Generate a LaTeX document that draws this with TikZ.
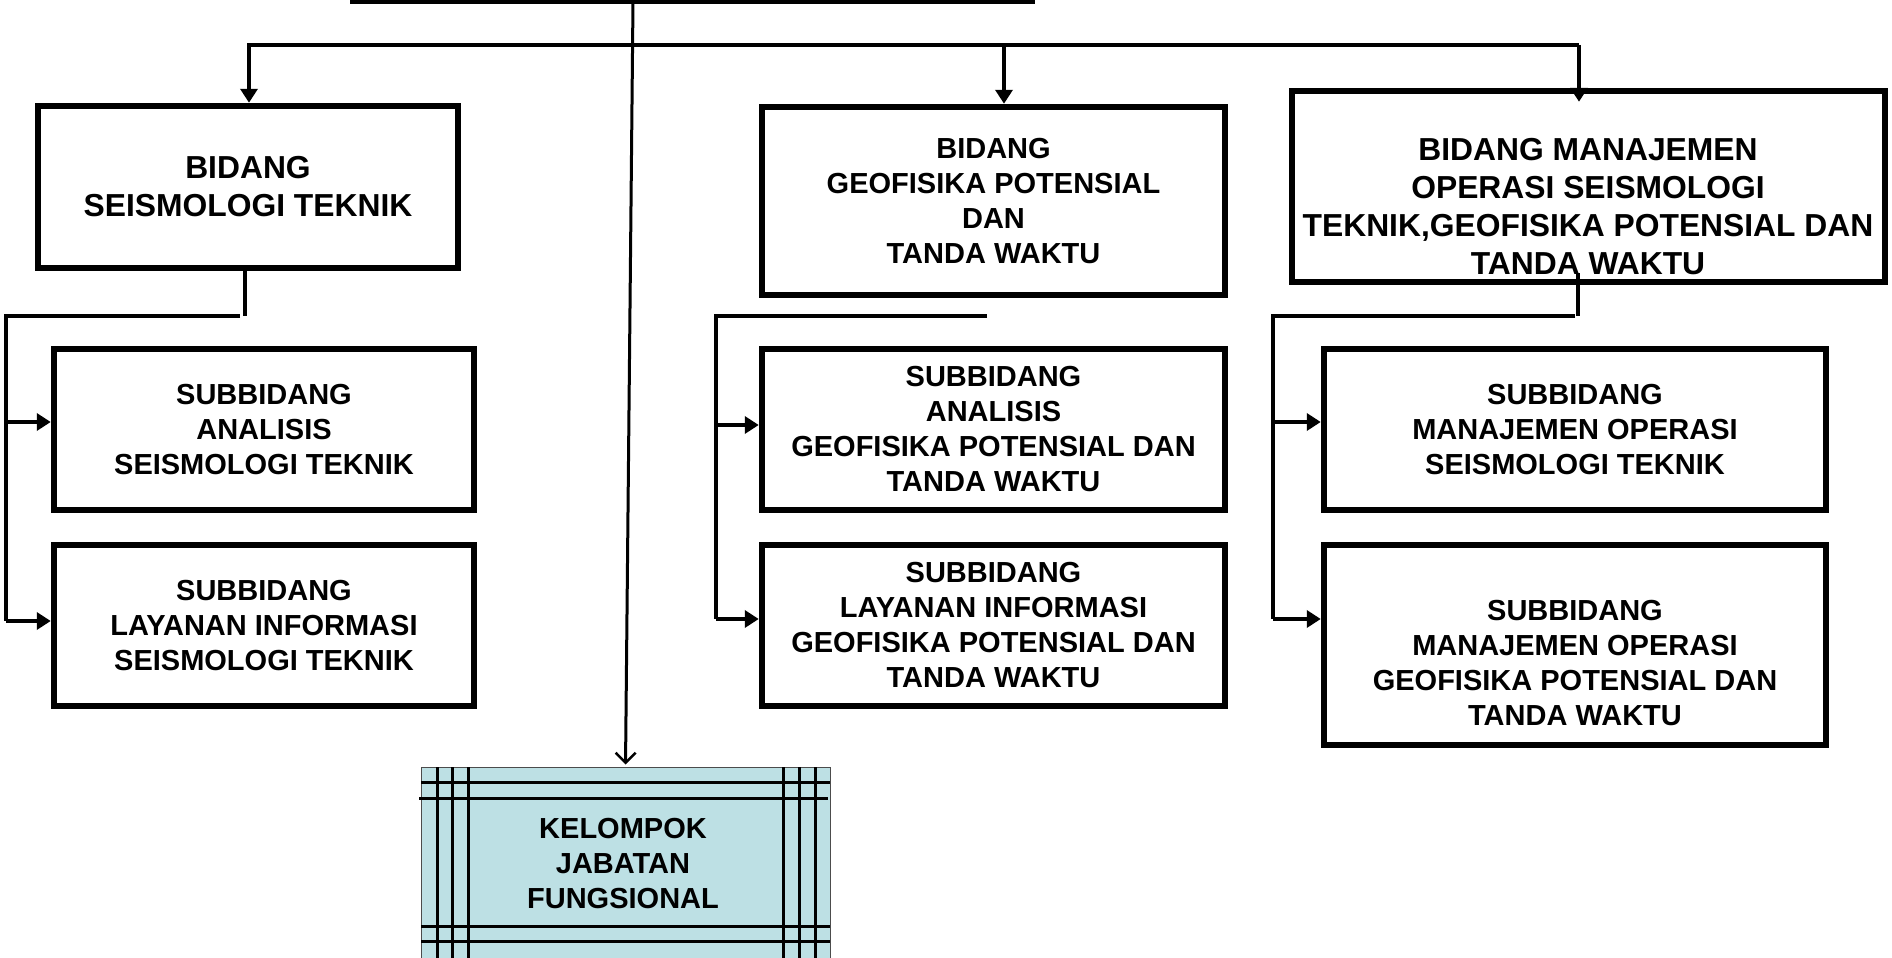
\documentclass[tikz,border=0pt]{standalone}
\usepackage{fontspec}
\setmainfont{Liberation Sans}
\usetikzlibrary{arrows.meta,calc}
\definecolor{kelblue}{RGB}{189,224,228}
\tikzset{
  box/.style={draw, line width=6.5pt, inner sep=0pt, align=center,
    font=\bfseries\fontsize{29}{35}\selectfont},
  bigbox/.style={box, font=\bfseries\fontsize{31.8}{38}\selectfont},
  txt/.style={inner sep=0pt, align=center, font=\bfseries\fontsize{29}{35}\selectfont},
  bigtxt/.style={txt, font=\bfseries\fontsize{31.8}{38}\selectfont},
  conn/.style={draw, line width=3.8pt},
  arr/.style={conn, -{Triangle[length=14pt,width=17pt]}},
  openarr/.style={draw, line width=3pt, -{Straight Barb[length=10pt,width=20pt,line width=2.5pt]}},
  grid/.style={draw, line width=3pt}
}
\begin{document}
\begin{tikzpicture}[x=1pt,y=-1pt]
\useasboundingbox (0,0) rectangle (1892,958);

% boxes
\node[bigbox, minimum width=420pt, minimum height=162pt] (b1) at (248,187) {BIDANG\\SEISMOLOGI TEKNIK};
\node[box, minimum width=463pt, minimum height=188pt] (b2) at (993.5,201) {BIDANG\\GEOFISIKA POTENSIAL\\DAN\\TANDA WAKTU};
\node[box, minimum width=593pt, minimum height=191pt] (b3) at (1588.5,186.5) {};
\node[bigtxt] (b3t) at (1588,207) {BIDANG MANAJEMEN\\OPERASI SEISMOLOGI\\TEKNIK,GEOFISIKA POTENSIAL DAN\\TANDA WAKTU};

\node[box, minimum width=420pt, minimum height=161pt] (s1) at (264,429.5) {SUBBIDANG\\ANALISIS\\SEISMOLOGI TEKNIK};
\node[box, minimum width=420pt, minimum height=161pt] (s2) at (264,625.5) {SUBBIDANG\\LAYANAN INFORMASI\\SEISMOLOGI TEKNIK};
\node[box, minimum width=463pt, minimum height=161pt] (s3) at (993.5,429.5) {SUBBIDANG\\ANALISIS\\GEOFISIKA POTENSIAL DAN\\TANDA WAKTU};
\node[box, minimum width=463pt, minimum height=161pt] (s4) at (993.5,625.5) {SUBBIDANG\\LAYANAN INFORMASI\\GEOFISIKA POTENSIAL DAN\\TANDA WAKTU};
\node[box, minimum width=502pt, minimum height=161pt] (s5) at (1575,429.5) {SUBBIDANG\\MANAJEMEN OPERASI\\SEISMOLOGI TEKNIK};
\node[box, minimum width=502pt, minimum height=200pt] (s6) at (1575,645) {};
\node[txt] (s6t) at (1575,663) {SUBBIDANG\\MANAJEMEN OPERASI\\GEOFISIKA POTENSIAL DAN\\TANDA WAKTU};

% kelompok jabatan fungsional
\node[draw=black!70, line width=1pt, fill=kelblue, minimum width=409pt, minimum height=193pt, inner sep=0pt] (kel) at (625.5,863.5) {};
\foreach \xx in {437,452,468,783,799,815} \draw[grid] (\xx,767) -- (\xx,960);
\draw[grid] (421,782) -- (830,782);
\draw[grid] (419,798) -- (828,798);
\draw[grid] (421,926) -- (830,926);
\draw[grid] (421,941) -- (830,941);
\node[txt] (kelt) at (623,864) {KELOMPOK\\JABATAN\\FUNGSIONAL};

% top structure
\coordinate (topL) at (350,1.5);
\coordinate (topR) at (1035,1.5);
\coordinate (topC) at (633,1.5);
\draw[line width=4.5pt] (topL) -- (topR);
\coordinate (j1) at (247,45);
\coordinate (j2) at (1004,45);
\coordinate (j3) at (1579,45);
\draw[conn] (j1) -- (j3);
\draw[openarr, shorten >=2pt] (topC) -- (kel.north);
\draw[arr] ($(j1)+(2,0)$) -- ($(j1 |- b1.north)+(2,0)$);
\draw[arr] (j2) -- (j2 |- b2.north);
\draw[arr] (j3) -- ($(j3 |- b3.north)+(0,14)$);

% left group
\coordinate (l0) at (245,316);
\coordinate (l1) at (240,316);
\coordinate (l2) at (6,316);
\coordinate (la) at (6,422);
\coordinate (lb) at (6,621);
\draw[conn] (b1.south -| l0) -- (l0);
\draw[conn] (l1) -- (l2) -- (lb);
\draw[arr] (la) -- (la -| s1.west);
\draw[arr] (lb) -- (lb -| s2.west);

% middle group
\coordinate (m1) at (987,316);
\coordinate (m2) at (716,316);
\coordinate (ma) at (716,425);
\coordinate (mb) at (716,619);
\draw[conn] (m1) -- (m2) -- (mb);
\draw[arr] (ma) -- (ma -| s3.west);
\draw[arr] (mb) -- (mb -| s4.west);

% right group
\coordinate (r0) at (1578,273);
\coordinate (r0b) at (1578,316);
\coordinate (r1) at (1575,316);
\coordinate (r2) at (1273,316);
\coordinate (ra) at (1273,422);
\coordinate (rb) at (1273,619);
\draw[conn] (r0) -- (r0b);
\draw[conn] (r1) -- (r2) -- (rb);
\draw[arr] (ra) -- (ra -| s5.west);
\draw[arr] (rb) -- (rb -| s6.west);
\end{tikzpicture}
\end{document}
